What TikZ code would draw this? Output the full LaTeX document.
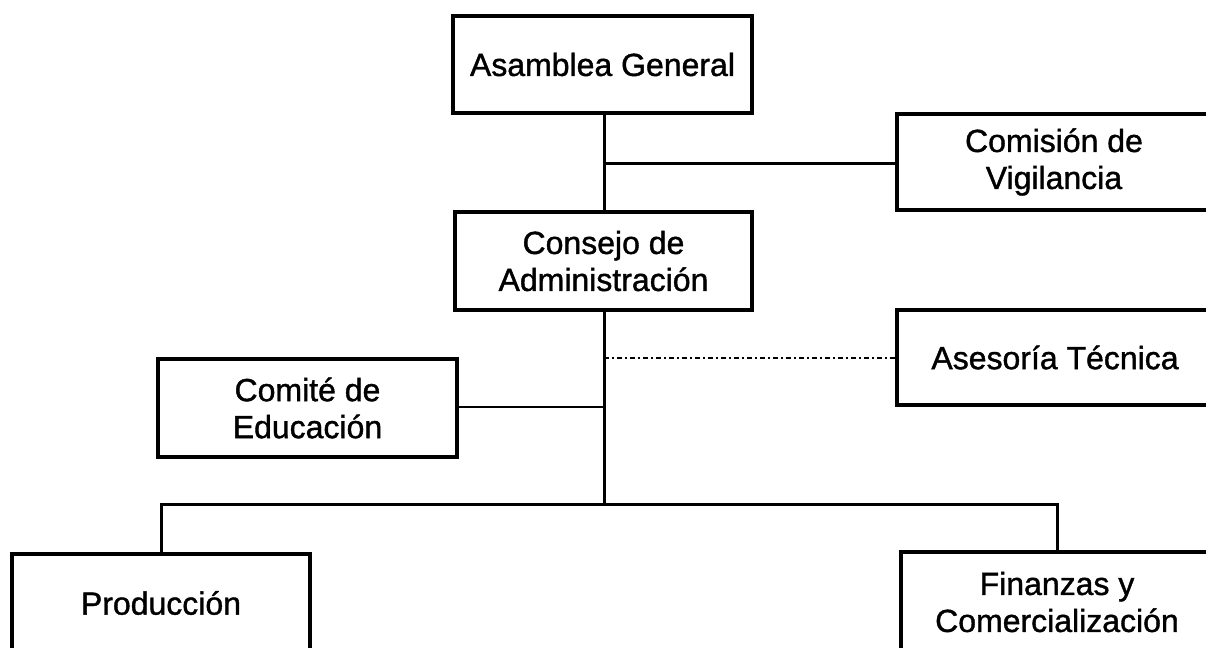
\documentclass[tikz,border=0pt]{standalone}
\usepackage{fontspec}
\setmainfont{Liberation Sans}[BoldFont=Liberation Sans, BoldFeatures={FakeBold=1.2}]
\tikzset{
    orgbox/.style={draw, line width=1.6pt, rectangle, align=center,
        inner sep=0pt, font=\fontsize{16}{18.5}\selectfont\bfseries},
    orgline/.style={line width=1.5pt},
    adviceline/.style={line width=0.9pt, dash pattern=on 2.5pt off 1.5pt on 1pt off 1.5pt}
}
\begin{document}
\begin{tikzpicture}[x=0.5pt, y=-0.5pt]
        \useasboundingbox (0,0) rectangle (1206,648);
        \clip (0,0) rectangle (1206,648);
        % upper level
        \node[orgbox, minimum width=149.5pt, minimum height=48.5pt] (asamblea) at (602.5,64.5) {Asamblea General};
        \node[orgbox, minimum width=148.5pt, minimum height=49pt] (consejo) at (603.5,261) {Consejo de\\Administración};
        \node[orgbox, minimum width=157pt, minimum height=48pt] (comision) at (1054,162) {Comisión de\\Vigilancia};
        \node[orgbox, minimum width=158pt, minimum height=47.5pt] (asesoria) at (1055,357.5) {Asesoría Técnica};
        \node[orgbox, minimum width=149.5pt, minimum height=49pt] (comite) at (307.5,408) {Comité de\\Educación};
        % lower level, cut off by the page
        \node[orgbox, minimum width=149pt, minimum height=49pt] (produccion) at (161,603) {Producción};
        \node[orgbox, minimum width=156pt, minimum height=50pt] (finanzas) at (1057,602) {Finanzas y\\Comercialización};
        % trunk
        \coordinate (vig) at (604,163);
        \coordinate (ase) at (604,358);
        \coordinate (edu) at (604,407);
        \coordinate (bus) at (604,504);
        \draw[orgline] (asamblea.south -| vig) -- (consejo.north -| vig);
        \draw[orgline] (consejo.south -| bus) -- (bus);
        \draw[orgline] (vig) -- (comision.west |- vig);
        \draw[adviceline] (ase) -- (asesoria.west |- ase);
        \draw[orgline, line width=1.2pt] (comite.east |- edu) -- (edu);
        \draw[orgline] (produccion.north) -- (produccion.north |- bus)
            -- (finanzas.north |- bus) -- (finanzas.north);
    \end{tikzpicture}
\end{document}
